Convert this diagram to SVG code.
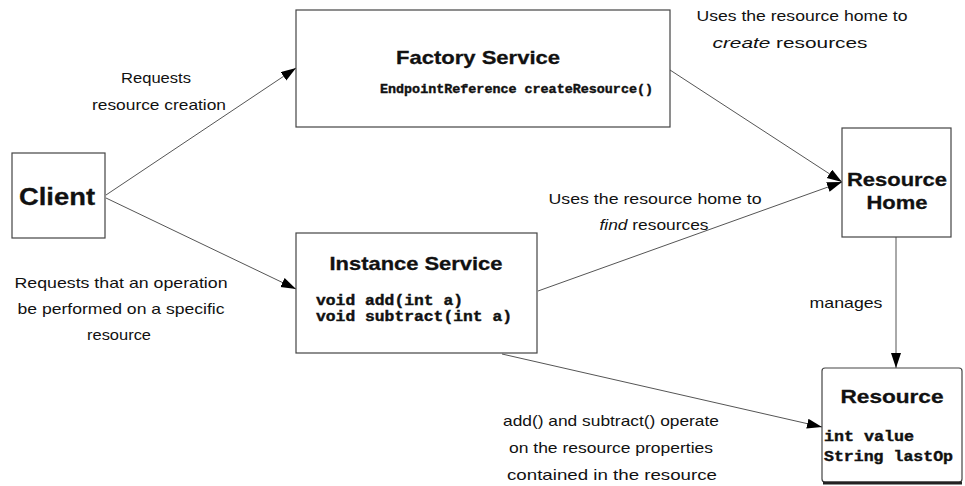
<svg xmlns="http://www.w3.org/2000/svg" width="965" height="486" viewBox="0 0 965 486">
  <defs>
    <style>
      .box { fill: #ffffff; stroke: #444444; stroke-width: 1.2; }
      .edge { fill: none; stroke: #555555; stroke-width: 1; }
      .title { font-family: "Liberation Sans", Arial, sans-serif; font-weight: bold; fill: #111111; stroke: #111111; stroke-width: 0.3; }
      .code { font-family: "Liberation Mono", "Courier New", monospace; font-weight: bold; fill: #111111; stroke: #111111; stroke-width: 0.4; }
      .label { font-family: "Liberation Sans", Arial, sans-serif; font-size: 15px; fill: #111111; }
    </style>
    <marker id="arrow" markerUnits="userSpaceOnUse" markerWidth="16" markerHeight="11" refX="15" refY="5" orient="auto">
      <path d="M0,0 L15,5 L0,10 z" fill="#000000"/>
    </marker>
  </defs>

  <rect width="965" height="486" fill="#ffffff"/>

  <!-- connectors -->
  <g id="connectors">
    <line class="edge" x1="106" y1="195" x2="296" y2="68" marker-end="url(#arrow)"/>
    <line class="edge" x1="106" y1="198" x2="296" y2="289" marker-end="url(#arrow)"/>
    <line class="edge" x1="670" y1="70" x2="842" y2="182" marker-end="url(#arrow)"/>
    <line class="edge" x1="538" y1="291" x2="842" y2="182" marker-end="url(#arrow)"/>
    <line class="edge" x1="896" y1="237" x2="896" y2="368" marker-end="url(#arrow)"/>
    <line class="edge" x1="502" y1="354" x2="822" y2="427" marker-end="url(#arrow)"/>

    <g id="edge-labels">
      <text class="label" x="156" y="83" text-anchor="middle" textLength="70" lengthAdjust="spacingAndGlyphs">Requests</text>
      <text class="label" x="159" y="110" text-anchor="middle" textLength="134" lengthAdjust="spacingAndGlyphs">resource creation</text>

      <text class="label" x="802" y="21" text-anchor="middle" textLength="211" lengthAdjust="spacingAndGlyphs">Uses the resource home to</text>
      <text class="label" x="790" y="48" text-anchor="middle" textLength="155" lengthAdjust="spacingAndGlyphs"><tspan font-style="italic">create</tspan> resources</text>

      <text class="label" x="655" y="204" text-anchor="middle" textLength="213" lengthAdjust="spacingAndGlyphs">Uses the resource home to</text>
      <text class="label" x="654" y="230" text-anchor="middle" textLength="109" lengthAdjust="spacingAndGlyphs"><tspan font-style="italic">find</tspan> resources</text>

      <text class="label" x="121" y="288" text-anchor="middle" textLength="213" lengthAdjust="spacingAndGlyphs">Requests that an operation</text>
      <text class="label" x="121" y="314" text-anchor="middle" textLength="207" lengthAdjust="spacingAndGlyphs">be performed on a specific</text>
      <text class="label" x="119" y="340" text-anchor="middle" textLength="64" lengthAdjust="spacingAndGlyphs">resource</text>

      <text class="label" x="846" y="308" text-anchor="middle" textLength="73" lengthAdjust="spacingAndGlyphs">manages</text>

      <text class="label" x="611" y="426" text-anchor="middle" textLength="216" lengthAdjust="spacingAndGlyphs">add() and subtract() operate</text>
      <text class="label" x="611" y="453" text-anchor="middle" textLength="204" lengthAdjust="spacingAndGlyphs">on the resource properties</text>
      <text class="label" x="612" y="480" text-anchor="middle" textLength="210" lengthAdjust="spacingAndGlyphs">contained in the resource</text>
    </g>
  </g>

  <!-- Client -->
  <g id="client">
    <rect class="box" x="12" y="153" width="93" height="85"/>
    <text class="title" x="57" y="205" font-size="24" text-anchor="middle" textLength="76" lengthAdjust="spacingAndGlyphs">Client</text>
  </g>

  <!-- Factory Service -->
  <g id="factory-service">
    <rect class="box" x="296" y="10" width="374" height="117"/>
    <text class="title" x="478" y="64" font-size="19" text-anchor="middle" textLength="164" lengthAdjust="spacingAndGlyphs">Factory Service</text>
    <text class="code" x="380" y="93" font-size="12.5" textLength="273" lengthAdjust="spacingAndGlyphs">EndpointReference createResource()</text>
  </g>

  <!-- Instance Service -->
  <g id="instance-service">
    <rect class="box" x="296" y="233" width="241" height="120"/>
    <text class="title" x="416" y="270" font-size="19" text-anchor="middle" textLength="173" lengthAdjust="spacingAndGlyphs">Instance Service</text>
    <text class="code" x="316" y="305" font-size="14" textLength="147" lengthAdjust="spacingAndGlyphs">void add(int a)</text>
    <text class="code" x="316" y="321" font-size="14" textLength="196" lengthAdjust="spacingAndGlyphs">void subtract(int a)</text>
  </g>

  <!-- Resource Home -->
  <g id="resource-home">
    <rect class="box" x="842" y="128" width="109" height="109"/>
    <text class="title" x="897" y="186" font-size="19" text-anchor="middle" textLength="100" lengthAdjust="spacingAndGlyphs">Resource</text>
    <text class="title" x="897" y="209" font-size="19" text-anchor="middle" textLength="61" lengthAdjust="spacingAndGlyphs">Home</text>
  </g>

  <!-- Resource -->
  <g id="resource">
    <rect class="box" x="822" y="368" width="140" height="114" rx="3"/>
    <line x1="823" y1="483" x2="962" y2="483" stroke="#222222" stroke-width="3"/>
    <text class="title" x="892" y="403" font-size="19" text-anchor="middle" textLength="103" lengthAdjust="spacingAndGlyphs">Resource</text>
    <text class="code" x="824" y="441" font-size="14" textLength="90" lengthAdjust="spacingAndGlyphs">int value</text>
    <text class="code" x="824" y="461" font-size="14" textLength="129" lengthAdjust="spacingAndGlyphs">String lastOp</text>
  </g>
</svg>
